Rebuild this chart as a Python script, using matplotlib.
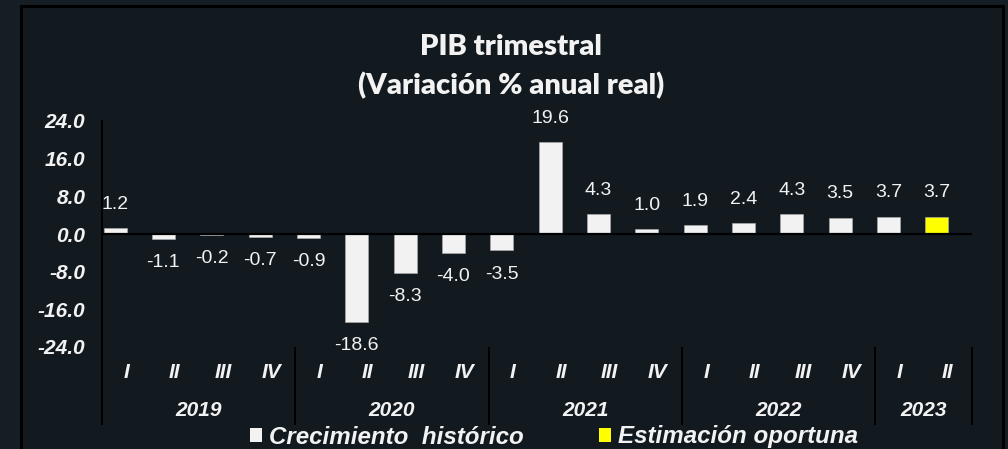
import matplotlib
matplotlib.use('Agg')
import matplotlib.pyplot as plt
from matplotlib.patches import Patch, Rectangle

# Data
years = ['2019', '2020', '2021', '2022', '2023']
quarters = ['I', 'II', 'III', 'IV'] * 4 + ['I', 'II']
values = [1.2, -1.1, -0.2, -0.7, -0.9, -18.6, -8.3, -4.0, -3.5, 19.6,
          4.3, 1.0, 1.9, 2.4, 4.3, 3.5, 3.7, 3.7]
estimate = [False] * 17 + [True]
y_ticks = [-24, -16, -8, 0, 8, 16, 24]

bg = '#121a20'
white = '#f2f2f2'
yellow = '#ffff00'
font = 'Liberation Sans'

fig = plt.figure(figsize=(10.08, 4.49), dpi=100)
fig.patch.set_facecolor('#161e25')
# outer frame
fig.patches.append(Rectangle((21 / 1008, -0.05), 982 / 1008, 1.05 - 6 / 449,
                             transform=fig.transFigure, facecolor=bg,
                             edgecolor='black', lw=2.2, zorder=-5))

ax = fig.add_axes([102 / 1008, 1 - 347 / 449, 870 / 1008, 226 / 449])
ax.set_facecolor('none')
ax.set_zorder(2)

x = list(range(len(values)))
offset = -0.23
colors = [yellow if e else white for e in estimate]
bars = ax.bar([i + offset for i in x], values, width=0.476, color=colors,
              edgecolor='#b0b0b0', linewidth=0.4, zorder=2)

for i, v in enumerate(values):
    ax.annotate(f'{v:.1f}', (i + offset, v), xytext=(0, 17 if v >= 0 else -17),
                textcoords='offset points', ha='center', va='center',
                color=white, fontsize=14, family=font, annotation_clip=False)

ax.set_xlim(-0.5, len(values) - 0.5)
ax.set_ylim(-24, 24)
ax.axhline(0, color='black', lw=1.6, zorder=3)

for s in ax.spines.values():
    s.set_visible(False)

ax.set_yticks(y_ticks)
ax.set_yticklabels([f'{t:.1f}' for t in y_ticks])
ax.tick_params(axis='y', length=0, pad=12, labelcolor=white)
for lab in ax.get_yticklabels():
    lab.set_fontfamily(font)
    lab.set_fontweight('bold')
    lab.set_fontstyle('italic')
    lab.set_fontsize(15)
ax.set_xticks([])

tr = ax.get_xaxis_transform()
# y axis line (extends down into category area)
ax.plot([-0.5, -0.5], [1, -0.341], color='black', lw=1.4, transform=tr, clip_on=False)
# group separators
year_sizes = [4, 4, 4, 4, 2]
start = 0
for y_lab, n in zip(years, year_sizes):
    end = start + n
    ax.plot([end - 0.5, end - 0.5], [-0.004, -0.341], color='black', lw=1.4,
            transform=tr, clip_on=False)
    ax.text((start + end - 1) / 2, -0.283, y_lab, transform=tr, ha='center',
            va='center', color=white, fontsize=15, family=font,
            fontweight='bold', fontstyle='italic')
    start = end

for i, q in enumerate(quarters):
    ax.text(i, -0.115, q, transform=tr, ha='center', va='center', color=white,
            fontsize=15, family=font, fontweight='bold', fontstyle='italic')

fig.text(511 / 1008, 1 - 47 / 449, 'PIB trimestral', ha='center', va='center',
         color=white, fontsize=21, family='Lato', fontweight='heavy')
fig.text(511 / 1008, 1 - 86 / 449, '(Variación % anual real)', ha='center',
         va='center', color=white, fontsize=21, family='Lato', fontweight='heavy')

handles = [Patch(facecolor=white, edgecolor='none', label='Crecimiento  histórico'),
           Patch(facecolor=yellow, edgecolor='none', label='Estimación oportuna')]
leg = fig.legend(handles=handles, loc='center', bbox_to_anchor=(554 / 1008, 1 - 437 / 449),
                 ncol=2, frameon=False, handlelength=0.5, handleheight=0.5,
                 handletextpad=0.3, columnspacing=3.1, borderpad=0,
                 prop={'family': font, 'weight': 'bold', 'style': 'italic', 'size': 17.4})
for t in leg.get_texts():
    t.set_color(white)

fig.savefig('out.png', dpi=100, facecolor=fig.get_facecolor())
